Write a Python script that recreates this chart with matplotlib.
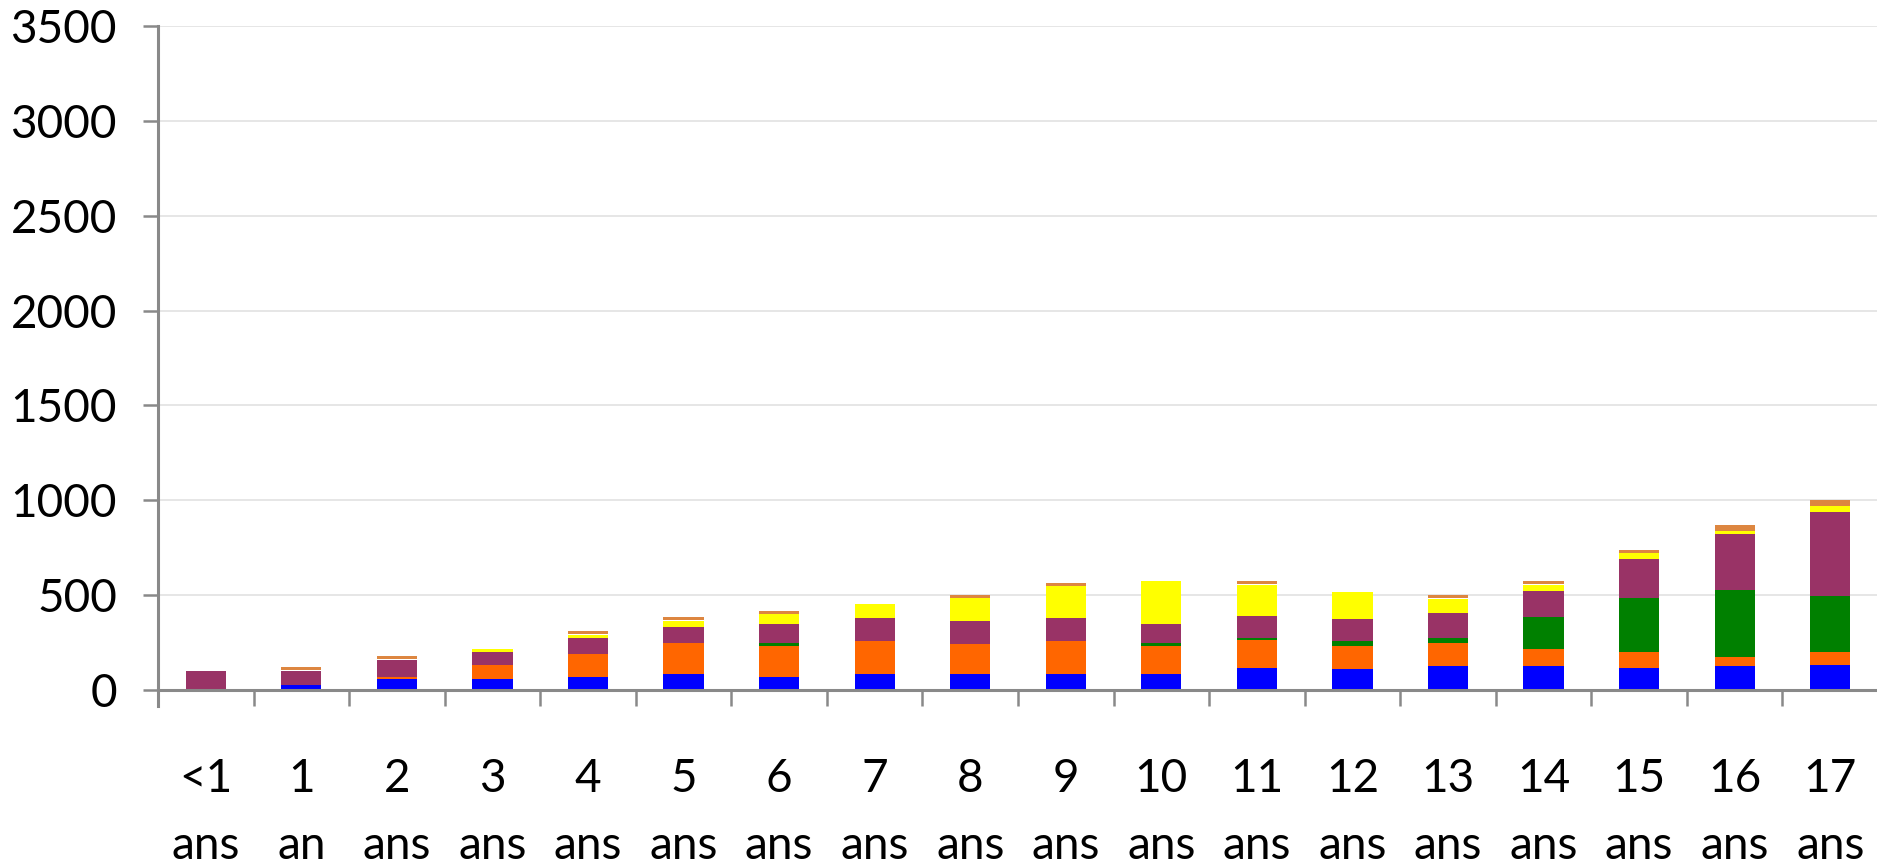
import matplotlib
matplotlib.use("Agg")
import matplotlib.pyplot as plt
import numpy as np

# ---------- Données ----------
ages = ["<1\nans", "1\nan", "2\nans", "3\nans", "4\nans", "5\nans", "6\nans", "7\nans", "8\nans",
        "9\nans", "10\nans", "11\nans", "12\nans", "13\nans", "14\nans", "15\nans", "16\nans", "17\nans"]

bleu   = [0, 27, 58, 58, 69, 85, 69, 85, 85, 85, 85, 117, 111, 127, 127, 117, 127, 132]
orange = [7, 0, 11, 74, 122, 164, 164, 175, 159, 175, 148, 148, 122, 122, 90, 85, 48, 69]
vert   = [0, 0, 0, 0, 0, 0, 16, 0, 0, 0, 16, 11, 26, 26, 166, 281, 350, 297]
prune  = [94, 74, 90, 69, 85, 85, 101, 121, 122, 121, 101, 116, 117, 132, 141, 207, 297, 440]
jaune  = [0, 0, 0, 16, 16, 32, 48, 74, 121, 165, 222, 164, 138, 74, 32, 32, 16, 32]
blanc  = [0, 5, 5, 0, 5, 5, 0, 0, 0, 0, 0, 5, 0, 5, 5, 0, 0, 0]
cuivre = [0, 16, 16, 0, 16, 16, 16, 0, 16, 16, 0, 16, 0, 16, 16, 16, 32, 31]

series = [
    (bleu, "#0000FF"),
    (orange, "#FF6600"),
    (vert, "#008000"),
    (prune, "#993366"),
    (jaune, "#FFFF00"),
    (blanc, "#FFFFFF"),
    (cuivre, "#DD8640"),
]

# ---------- Figure ----------
plt.rcParams["font.family"] = ["Lato", "DejaVu Sans"]

fig = plt.figure(figsize=(18.77, 8.64), dpi=100)
ax = fig.add_axes([158 / 1877, 1 - 690 / 864, 1 - 157 / 1877, (690 - 26) / 864])

x = np.arange(len(ages))
bottom = np.zeros(len(ages))
for vals, col in series:
    vals = np.array(vals, dtype=float)
    ax.bar(x, vals, width=0.42, bottom=bottom, color=col, linewidth=0, zorder=3)
    bottom += vals

ax.set_xlim(-0.5, len(ages) - 0.5)
ax.set_ylim(0, 3500)
ax.set_yticks(np.arange(0, 3501, 500))
ax.yaxis.grid(True, color="#E4E4E4", linewidth=1.3, zorder=0)

# axes style
for s in ("top", "right"):
    ax.spines[s].set_visible(False)
for s in ("left", "bottom"):
    ax.spines[s].set_color("#898989")
    ax.spines[s].set_linewidth(2.2)
    ax.spines[s].set_zorder(4)
ax.spines["left"].set_bounds(-85, 3500)

# x: graduations aux frontières, libellés au centre
ax.set_xticks(np.arange(-0.5, len(ages), 1.0))
ax.set_xticklabels([])
ax.set_xticks(x, minor=True)
ax.set_xticklabels(ages, minor=True, fontsize=33, linespacing=1.72)
ax.tick_params(axis="x", which="major", direction="out", length=11.5, width=1.8, color="#898989")
ax.tick_params(axis="x", which="minor", length=0, pad=49)
ax.tick_params(axis="y", direction="out", length=10.5, width=1.8, color="#898989",
               labelsize=33, pad=19)

fig.savefig("out.png", dpi=100, facecolor="white")
